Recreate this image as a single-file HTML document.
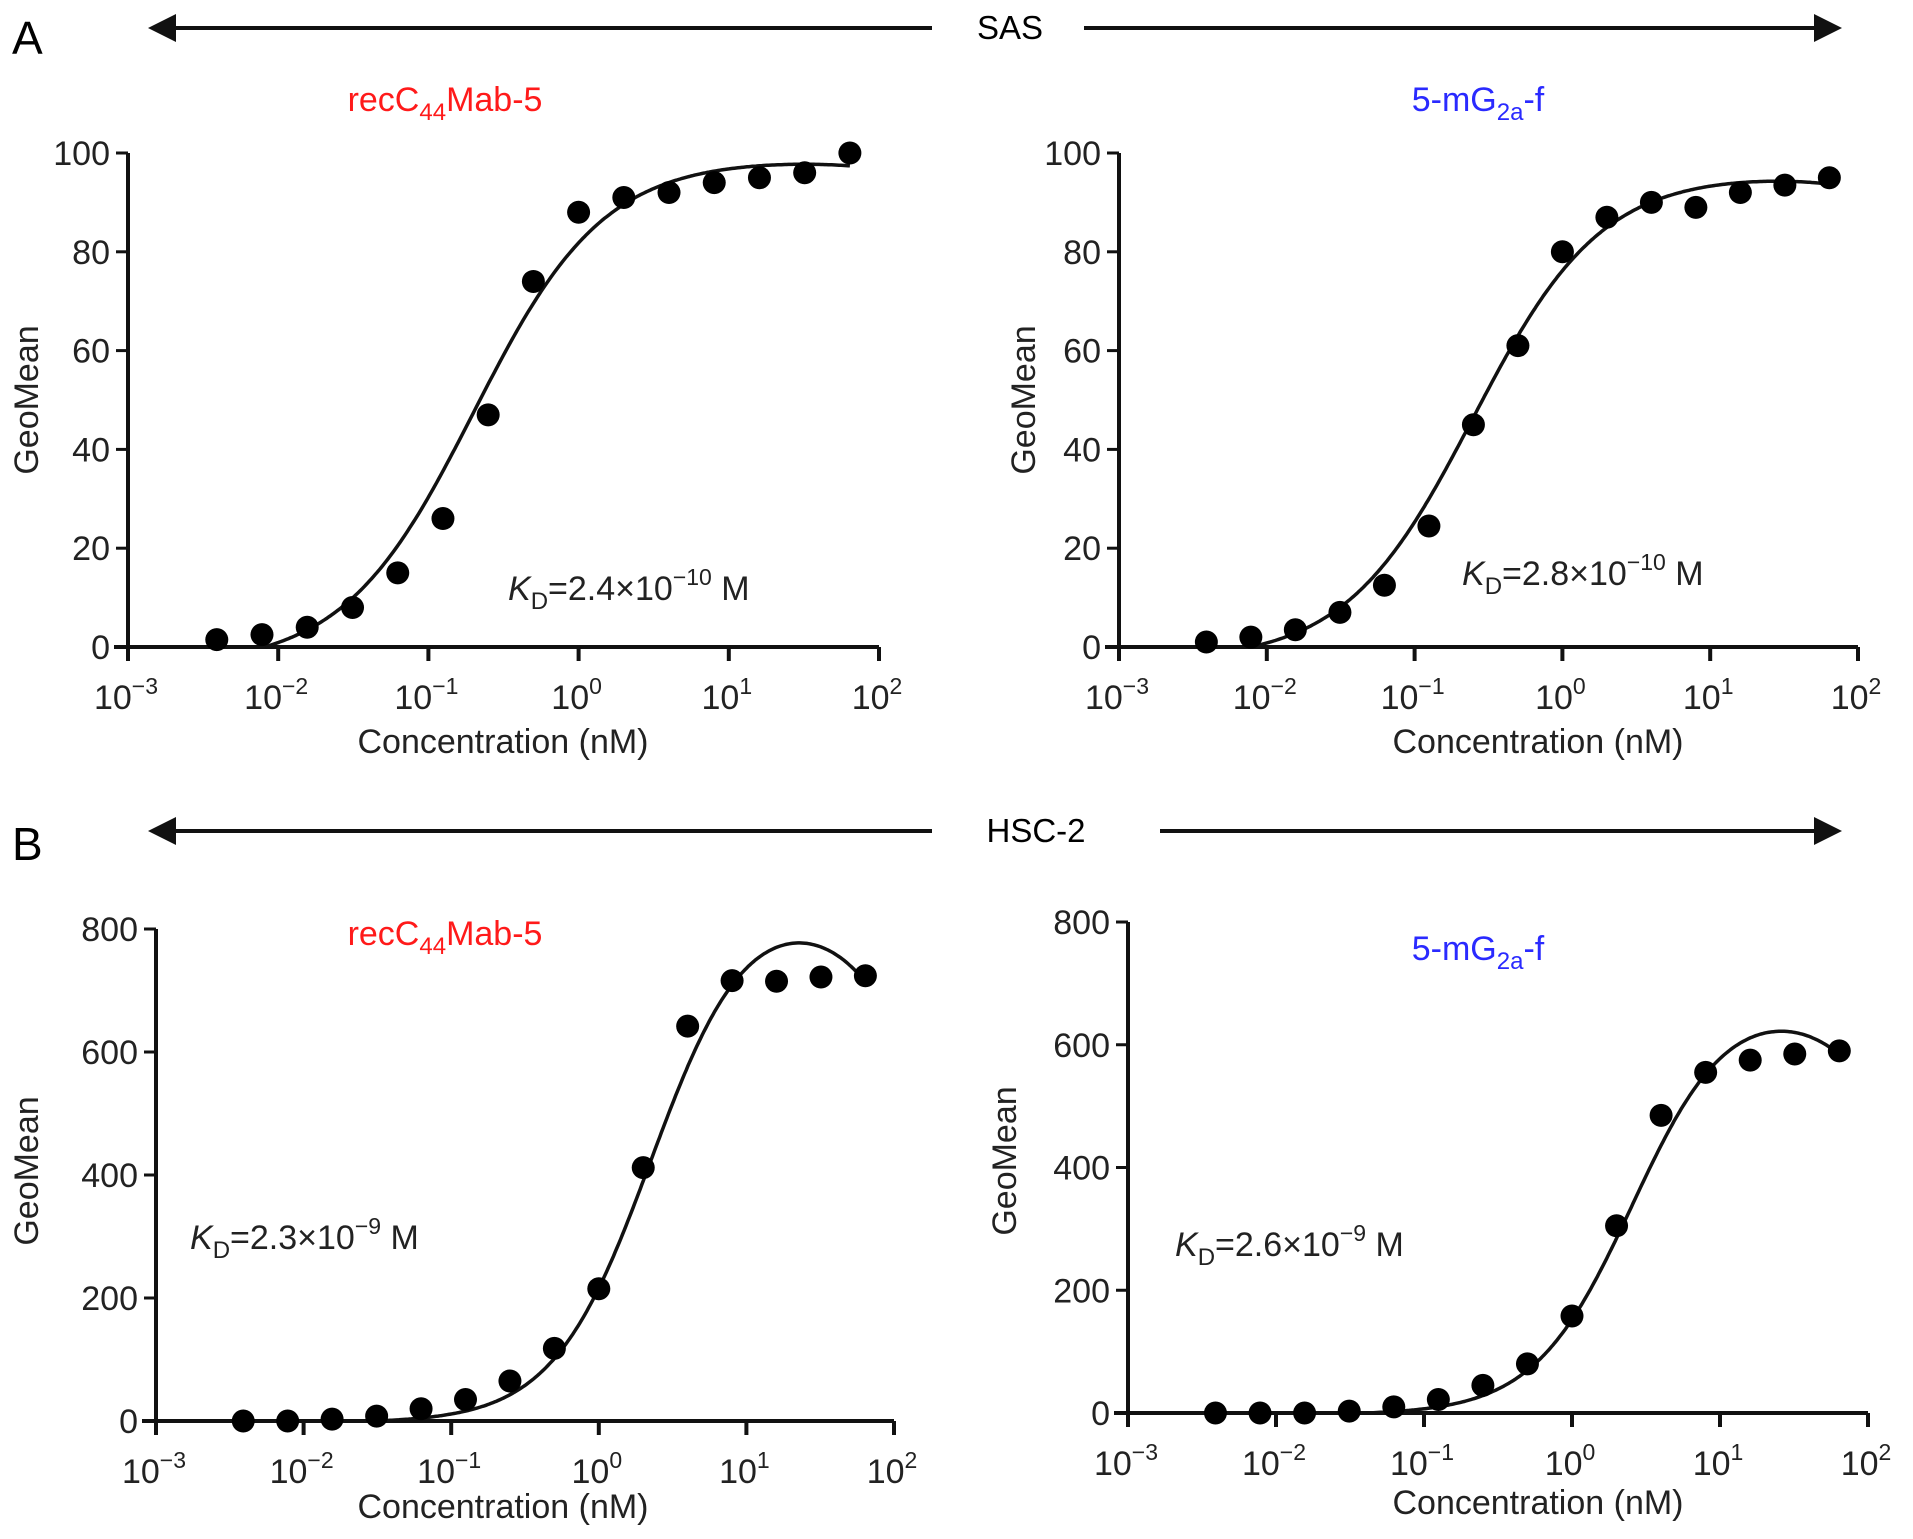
<!DOCTYPE html>
<html><head><meta charset="utf-8"><style>
html,body{margin:0;padding:0;background:#fff;}
svg{display:block;font-family:"Liberation Sans",Arial,sans-serif;}
</style></head><body>
<svg id="fig" width="1913" height="1539" viewBox="0 0 1913 1539" xmlns="http://www.w3.org/2000/svg">
<g>
<text x="12" y="54" font-size="46">A</text>
<line x1="170" y1="28" x2="932" y2="28" stroke="#111" stroke-width="4"/>
<polygon points="148,28 176,14 176,42" fill="#111"/>
<text x="1010" y="39" font-size="33" text-anchor="middle">SAS</text>
<line x1="1084" y1="28" x2="1815" y2="28" stroke="#111" stroke-width="4"/>
<polygon points="1842,28 1814,14 1814,42" fill="#111"/>
</g>
<g>
<text x="12" y="860" font-size="46">B</text>
<line x1="170" y1="831" x2="932" y2="831" stroke="#111" stroke-width="4"/>
<polygon points="148,831 176,817 176,845" fill="#111"/>
<text x="1036" y="842" font-size="33" text-anchor="middle">HSC-2</text>
<line x1="1160" y1="831" x2="1815" y2="831" stroke="#111" stroke-width="4"/>
<polygon points="1842,831 1814,817 1814,845" fill="#111"/>
</g>
</svg>
<script>
// shared concentrations (nM)
const concentrations = [0.0039,0.0078,0.0156,0.03125,0.0625,0.125,0.25,0.5,1,2,4,8,16,32,64];
const xTickExps = [-3,-2,-1,0,1,2];
const yTicksA = [0,20,40,60,80,100];
const yTicksB = [0,200,400,600,800];
const sasRecValues = [1.5,2.5,4,8,15,26,47,74,88,91,92,94,95,96,100];
const sasMgValues = [1,2,3.5,7,12.5,24.5,45,61,80,87,90,89,92,93.5,95];
const hscRecValues = [0,0,3,8,20,35,65,118,215,412,642,716,715,722,724];
const hscMgValues = [0,0,0,3,10,22,45,80,158,305,485,555,575,585,590];
// fitted curve parameters: [Bmax, Kd(nM), hill, linear term, offset]
const sasRecFit = [103,0.2,1,-0.02,-4];
const sasMgFit = [99,0.25,1,-0.03,-3];
const hscRecFit = [875,2.3,1.3,-2.3,-3];
const hscMgFit = [700,2.6,1.3,-1.6,-3];

const NS='http://www.w3.org/2000/svg';
const svg=document.getElementById('fig');
function mk(tag,attrs,parent){const e=document.createElementNS(NS,tag);for(const k in attrs)e.setAttribute(k,attrs[k]);(parent||svg).appendChild(e);return e;}

function panel(p){
  const g=mk('g',{});
  
  
  const xs=v=>p.x0+(Math.log10(v)+3)/5*(p.x1-p.x0);
  const ys=v=>p.y0-v/p.ymax*(p.y0-p.yTop);
  const xa=mk('line',{x1:p.x0-14,y1:p.y0,x2:p.x1,y2:p.y0,stroke:'#111','stroke-width':4},g);
  
  
  const ya=mk('line',{x1:p.x0,y1:p.yTop,x2:p.x0,y2:p.y0+14,stroke:'#111','stroke-width':4},g);
  
  
  xTickExps.forEach(e=>{
    const x=xs(Math.pow(10,e));
    const t=mk('line',{x1:x,y1:p.y0,x2:x,y2:p.y0+14,stroke:'#111','stroke-width':4},g);
    
    
    const tx=mk('text',{x:x-2,y:p.y0+62,'font-size':34,'text-anchor':'middle',fill:'#222'},g);
    
    
    tx.appendChild(document.createTextNode('10'));
    const sp=mk('tspan',{dy:-15,'font-size':23},tx);
    sp.textContent=(e<0?'\u2212':'')+Math.abs(e);
  });
  p.yTicks.forEach(v=>{
    const y=ys(v);
    const t=mk('line',{x1:p.x0-12,y1:y,x2:p.x0,y2:y,stroke:'#111','stroke-width':3},g);
    
    
    const tx=mk('text',{x:p.x0-18,y:y+12,'font-size':34,'text-anchor':'end',fill:'#222'},g);
    
    
    tx.textContent=v;
  });
  const xt=mk('text',{x:p.xtX,y:p.xtY,'font-size':34,'text-anchor':'middle',fill:'#222'},g);
  
  
  xt.textContent='Concentration (nM)';
  const yt=mk('text',{x:0,y:0,'font-size':34,'text-anchor':'middle',fill:'#222',transform:`translate(${p.ytX},${p.ytY}) rotate(-90)`},g);
  
  
  yt.textContent='GeoMean';
  const ti=mk('text',{x:p.tX,y:p.tY,'font-size':34,'text-anchor':'middle',fill:p.tColor},g);
  
  
  if(p.rec){ti.appendChild(document.createTextNode('recC'));const s=mk('tspan',{dy:9,'font-size':24},ti);s.textContent='44';const s2=mk('tspan',{dy:-9},ti);s2.textContent='Mab-5';}
  else{ti.appendChild(document.createTextNode('5-mG'));const s=mk('tspan',{dy:9,'font-size':24},ti);s.textContent='2a';const s2=mk('tspan',{dy:-9},ti);s2.textContent='-f';}
  const kd=mk('text',{x:p.kX,y:p.kY,'font-size':34,fill:'#222'},g);
  
  
  const k1=mk('tspan',{'font-style':'italic'},kd);k1.textContent='K';
  const k2=mk('tspan',{dy:9,'font-size':24},kd);k2.textContent='D';
  const k3=mk('tspan',{dy:-9},kd);k3.textContent='='+p.kd+'\u00d710';
  const k4=mk('tspan',{dy:-15,'font-size':23},kd);k4.textContent='\u2212'+p.kdExp;
  const k5=mk('tspan',{dy:15},kd);k5.textContent=' M';
  const f=p.fit;
  const Y=x=>f[0]*Math.pow(x/f[1],f[2])/(1+Math.pow(x/f[1],f[2]))+f[3]*x+f[4];
  let d='';
  for(let i=0;i<=400;i++){
    const lx=-3+i*(Math.log10(64)+3)/400;const x=Math.pow(10,lx);const v=Y(x);
    if(v<0)continue;
    d+=(d?'L':'M')+xs(x).toFixed(1)+','+ys(v).toFixed(1);
  }
  const c=mk('path',{d:d,fill:'none',stroke:'#111','stroke-width':3.5},g);
  
  
  p.values.forEach((v,i)=>{
    const pt=mk('circle',{cx:xs(concentrations[i]),cy:ys(v),r:11.5,fill:'#000'},g);
    
    
  });
}
panel({name:'panel-a-sas-recc44mab5',x0:128,x1:879,y0:647,yTop:153,ymax:100,yTicks:yTicksA,values:sasRecValues,fit:sasRecFit,
  xtX:503,xtY:753,ytX:38,ytY:400,tX:445,tY:111,tColor:'#ff1a1a',rec:true,kX:508,kY:600,kd:'2.4',kdExp:'10'});
panel({name:'panel-a-sas-5mg2af',x0:1119,x1:1858,y0:647,yTop:153,ymax:100,yTicks:yTicksA,values:sasMgValues,fit:sasMgFit,
  xtX:1538,xtY:753,ytX:1035,ytY:400,tX:1478,tY:111,tColor:'#2a2aff',rec:false,kX:1462,kY:585,kd:'2.8',kdExp:'10'});
panel({name:'panel-b-hsc2-recc44mab5',x0:156,x1:894,y0:1421,yTop:929,ymax:800,yTicks:yTicksB,values:hscRecValues,fit:hscRecFit,
  xtX:503,xtY:1518,ytX:38,ytY:1171,tX:445,tY:945,tColor:'#ff1a1a',rec:true,kX:190,kY:1249,kd:'2.3',kdExp:'9'});
panel({name:'panel-b-hsc2-5mg2af',x0:1128,x1:1868,y0:1413,yTop:922,ymax:800,yTicks:yTicksB,values:hscMgValues,fit:hscMgFit,
  xtX:1538,xtY:1514,ytX:1016,ytY:1161,tX:1478,tY:960,tColor:'#2a2aff',rec:false,kX:1175,kY:1256,kd:'2.6',kdExp:'9'});
</script>
</body></html>
